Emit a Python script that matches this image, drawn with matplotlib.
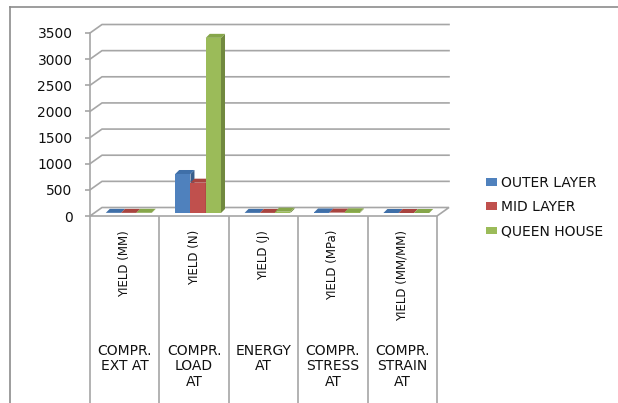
import numpy as np
import matplotlib.pyplot as plt
from matplotlib.patches import Polygon, Patch
from matplotlib.lines import Line2D

# data
yield_labels = ["YIELD (MM)", "YIELD (N)", "YIELD (J)", "YIELD (MPa)", "YIELD (MM/MM)"]
group_labels = ["COMPR.\nEXT AT", "COMPR.\nLOAD\nAT", "ENERGY\nAT",
                "COMPR.\nSTRESS\nAT", "COMPR.\nSTRAIN\nAT"]
series_names = ["OUTER LAYER", "MID LAYER", "QUEEN HOUSE"]
outer_layer = [3.1, 746, 2.5, 9.8, 0.05]
mid_layer = [2.6, 580, 2.1, 7.9, 0.04]
queen_house = [4.2, 3350, 25, 13.4, 0.06]
y_ticks = [0, 500, 1000, 1500, 2000, 2500, 3000, 3500]

front_colors = ["#4F81BD", "#C0504D", "#9BBB59"]
top_colors = ["#3F6FA8", "#A8443F", "#86A64A"]
side_colors = ["#385D8A", "#8C3836", "#71893F"]
grid_color = "#a6a6a6"
text_color = "#111111"

W, H = 618, 403
fig = plt.figure(figsize=(W / 100, H / 100), dpi=100)
ax = fig.add_axes([90 / W, 187 / H, 347 / W, 183 / H])
ax.set_xlim(0, len(yield_labels))
ax.set_ylim(0, 3500)

# pixel -> data helpers for the fake depth
ax_w = 347
ax_h = 183
def dx(p):
    return p * len(yield_labels) / ax_w
def dy(p):
    return p * 3500 / ax_h

nc = len(yield_labels)
gx, gy = dx(12), dy(8.5)

# floor
ax.add_patch(Polygon([(0, 0), (nc, 0), (nc + gx, gy), (gx, gy)], closed=True,
                     facecolor="white", edgecolor=grid_color, lw=1.2,
                     zorder=1, clip_on=False))
# back wall gridlines with diagonal on the side wall
for v in y_ticks[1:]:
    ax.plot([0, gx, nc + gx], [v, v + gy, v + gy], color=grid_color, lw=1.2,
            zorder=1, clip_on=False)

# bars
bw = 0.22
ox, oy = dx(4), dy(3)
ddx, ddy = dx(4), dy(4)
x = np.arange(nc) + 0.5
for i, vals in enumerate([outer_layer, mid_layer, queen_house]):
    pos = x + (i - 1) * bw + ox
    bars = ax.bar(pos, vals, width=bw, bottom=oy, color=front_colors[i],
                  zorder=3 + i * 3, clip_on=False)
    for r in bars:
        x0 = r.get_x()
        x1 = x0 + r.get_width()
        y0 = r.get_y()
        y1 = y0 + r.get_height()
        ax.add_patch(Polygon([(x1, y0), (x1 + ddx, y0 + ddy), (x1 + ddx, y1 + ddy), (x1, y1)],
                             closed=True, facecolor=side_colors[i], edgecolor="none",
                             zorder=4 + i * 3, clip_on=False))
        ax.add_patch(Polygon([(x0, y1), (x1, y1), (x1 + ddx, y1 + ddy), (x0 + ddx, y1 + ddy)],
                             closed=True, facecolor=top_colors[i], edgecolor="none",
                             zorder=5 + i * 3, clip_on=False))

# axes styling
for s in ["top", "right", "bottom"]:
    ax.spines[s].set_visible(False)
ax.spines["left"].set_color(grid_color)
ax.spines["left"].set_linewidth(1.2)
ax.set_yticks(y_ticks)
ax.tick_params(axis="y", length=3.6, width=1.2, color=grid_color, pad=9,
               labelsize=10, labelcolor=text_color)
ax.set_xticks([])
ax.patch.set_visible(False)

# multi-level category axis
xt = ax.get_xaxis_transform()
ax.vlines(np.arange(nc + 1), -1.2, 0, transform=xt, color=grid_color, lw=1.2,
          clip_on=False)
for i in range(nc):
    ax.annotate(yield_labels[i], xy=(i + 0.5, 0), xycoords=xt,
                xytext=(0, -10), textcoords="offset points", rotation=90,
                ha="center", va="top", fontsize=8.5, color=text_color)
    ax.annotate(group_labels[i], xy=(i + 0.5, 0), xycoords=xt,
                xytext=(0, -92), textcoords="offset points",
                ha="center", va="top", fontsize=10, color=text_color,
                multialignment="center", linespacing=1.15)

# legend
handles = [Patch(facecolor=c, edgecolor="none") for c in front_colors]
fig.legend(handles, series_names, loc="center left",
           bbox_to_anchor=(486 / W, 1 - 207 / H), frameon=False,
           fontsize=10, handlelength=0.8, handleheight=0.5,
           handletextpad=0.3, labelspacing=0.75, borderpad=0, borderaxespad=0,
           labelcolor=text_color)

# chart frame
fig.add_artist(Line2D([10 / W, 10 / W], [0, 1 - 7 / H], transform=fig.transFigure,
                      color="#8c8c8c", lw=1.2))
fig.add_artist(Line2D([10 / W, 1], [1 - 7 / H, 1 - 7 / H], transform=fig.transFigure,
                      color="#8c8c8c", lw=1.2))

fig.savefig("out.png", dpi=100)
